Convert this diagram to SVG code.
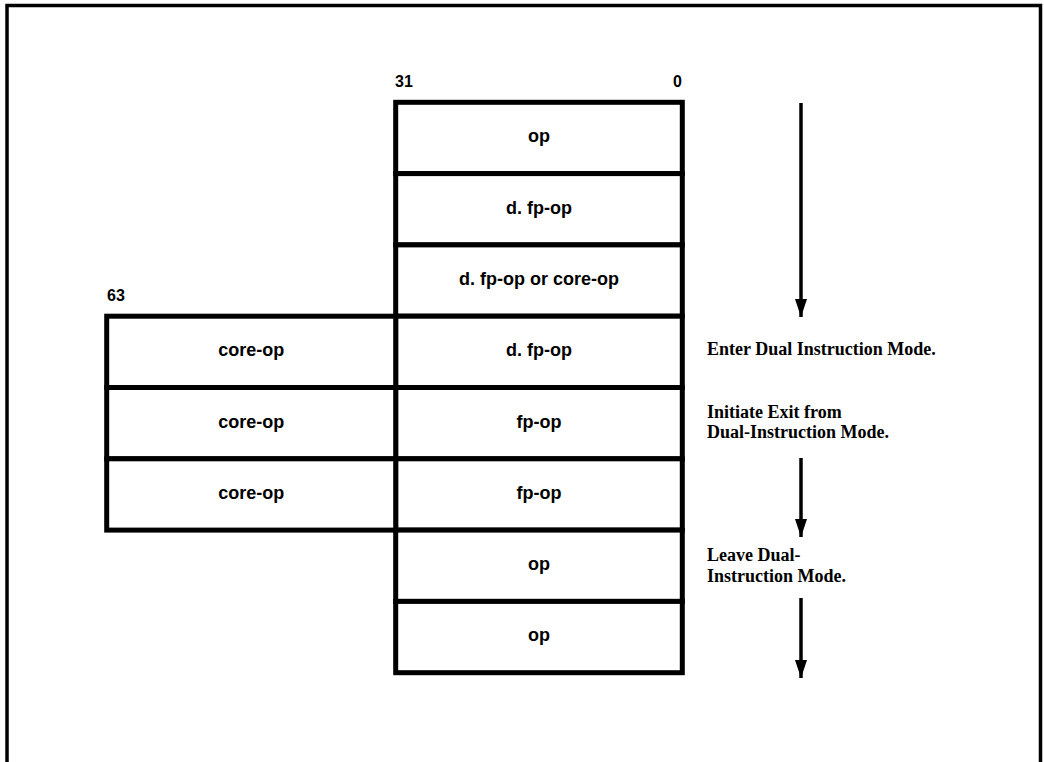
<svg xmlns="http://www.w3.org/2000/svg" width="1044" height="762" viewBox="0 0 1044 762">
  <style>
    .cell { fill: #ffffff; stroke: #000000; stroke-width: 5; }
    .op { font-family: "Liberation Sans", Arial, sans-serif; font-weight: bold; font-size: 18px; text-anchor: middle; fill: #000; }
    .bit { font-family: "Liberation Sans", Arial, sans-serif; font-weight: bold; font-size: 16px; fill: #000; }
    .note { font-family: "Liberation Serif", "Times New Roman", serif; font-weight: bold; font-size: 18px; fill: #000; }
    .flow { stroke: #000; stroke-width: 3.5; fill: none; }
  </style>
  <defs>
    <!-- arrowhead drawn along +x so orient="auto" turns it with the line -->
    <marker id="head" viewBox="0 0 18 12" refX="18" refY="6" markerWidth="18" markerHeight="12" markerUnits="userSpaceOnUse" orient="auto">
      <path d="M0,0 L18,6 L0,12 Z" fill="#000"/>
    </marker>
  </defs>

  <rect width="1044" height="762" fill="#ffffff"/>
  <!-- outer frame -->
  <rect x="7" y="5.5" width="1033.5" height="780" fill="none" stroke="#000" stroke-width="3.5"/>

  <!-- bit-position labels -->
  <text class="bit" x="395" y="86.5">31</text>
  <text class="bit" x="682" y="86.5" text-anchor="end">0</text>
  <text class="bit" x="107" y="301">63</text>

  <!-- instruction words, low half (bits 31..0) -->
  <g id="w1"><rect class="cell" x="395.7" y="102.3" width="286.6" height="71.3"/><text class="op" x="539" y="142">op</text></g>
  <g id="w2"><rect class="cell" x="395.7" y="173.6" width="286.6" height="71.3"/><text class="op" x="539" y="213.5">d. fp-op</text></g>
  <g id="w3"><rect class="cell" x="395.7" y="244.9" width="286.6" height="71.3"/><text class="op" x="539" y="284.5">d. fp-op or core-op</text></g>
  <g id="w4"><rect class="cell" x="395.7" y="316.2" width="286.6" height="71.3"/><text class="op" x="539" y="356">d. fp-op</text></g>
  <g id="w5"><rect class="cell" x="395.7" y="387.5" width="286.6" height="71.3"/><text class="op" x="539" y="427.5">fp-op</text></g>
  <g id="w6"><rect class="cell" x="395.7" y="458.8" width="286.6" height="71.3"/><text class="op" x="539" y="498.5">fp-op</text></g>
  <g id="w7"><rect class="cell" x="395.7" y="530.1" width="286.6" height="71.3"/><text class="op" x="539" y="570">op</text></g>
  <g id="w8"><rect class="cell" x="395.7" y="601.4" width="286.6" height="71.3"/><text class="op" x="539" y="641">op</text></g>

  <!-- high half (bits 63..32) during dual-instruction mode -->
  <g id="h4"><rect class="cell" x="106.7" y="316.2" width="289" height="71.3"/><text class="op" x="251.2" y="356">core-op</text></g>
  <g id="h5"><rect class="cell" x="106.7" y="387.5" width="289" height="71.3"/><text class="op" x="251.2" y="427.5">core-op</text></g>
  <g id="h6"><rect class="cell" x="106.7" y="458.8" width="289" height="71.3"/><text class="op" x="251.2" y="498.5">core-op</text></g>

  <!-- execution-flow arrows -->
  <g id="connectors">
    <line class="flow" x1="801" y1="103" x2="801" y2="317" marker-end="url(#head)"/>
    <line class="flow" x1="801" y1="458" x2="801" y2="537" marker-end="url(#head)"/>
    <line class="flow" x1="801" y1="598" x2="801" y2="678" marker-end="url(#head)"/>
  </g>

  <!-- mode annotations -->
  <g id="notes">
    <text class="note" x="707" y="355">Enter Dual Instruction Mode.</text>
    <text class="note" x="707" y="418">Initiate Exit from</text>
    <text class="note" x="707" y="438">Dual-Instruction Mode.</text>
    <text class="note" x="707" y="560.5">Leave Dual-</text>
    <text class="note" x="707" y="581.5">Instruction Mode.</text>
  </g>
</svg>
